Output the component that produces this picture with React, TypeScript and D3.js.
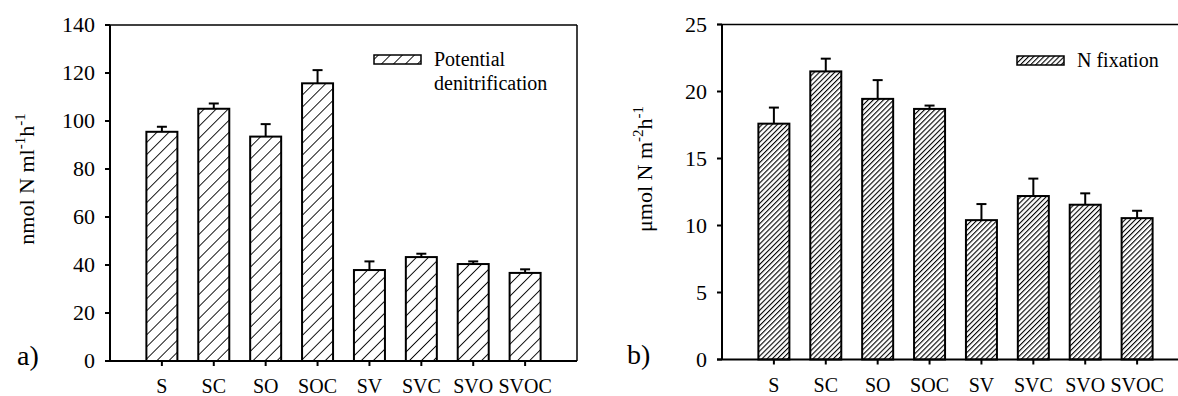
import React from "react";
import * as d3 from "d3";

// Treatments shared by both panels
const categories = ["S", "SC", "SO", "SOC", "SV", "SVC", "SVO", "SVOC"];

// Panel a) potential denitrification, nmol N ml-1 h-1 (mean and SE)
const denitrification = [95.5, 105.1, 93.5, 115.7, 37.9, 43.3, 40.4, 36.7];
const denitrificationErr = [2.1, 2.2, 5.2, 5.5, 3.6, 1.4, 1.1, 1.5];
const denitrificationTicks = [0, 20, 40, 60, 80, 100, 120, 140];

// Panel b) N fixation, µmol N m-2 h-1 (mean and SE)
const nFixation = [17.6, 21.5, 19.45, 18.7, 10.4, 12.2, 11.55, 10.55];
const nFixationErr = [1.2, 0.95, 1.4, 0.25, 1.2, 1.3, 0.85, 0.55];
const nFixationTicks = [0, 5, 10, 15, 20, 25];

const FONT = '"Liberation Serif", "Times New Roman", Times, serif';
const txt = { fontFamily: FONT };

type PanelProps = {
  values: number[];
  errors: number[];
  ticks: number[];
  yMax: number;
  x0: number;
  x1: number;
  yTop: number;
  yBottom: number;
  clipRight: number;
  patternId: string;
  showRightBorder: boolean;
  legendLines: string[];
  legendX: number;
  legendY: number;
  panelLabel: string;
  panelLabelX: number;
  yLabel: React.ReactNode;
  yLabelX: number;
  yLabelY: number;
};

function Panel(p: PanelProps) {
  const x = d3.scaleLinear().domain([0, categories.length + 1]).range([p.x0, p.x1]);
  const y = d3.scaleLinear().domain([0, p.yMax]).range([p.yBottom, p.yTop]);
  const barW = 31;
  const capW = 10;
  const tickLen = 5;
  const right = Math.min(p.x1, p.clipRight);
  return (
    <g>
      {/* bars */}
      {p.values.map((v, i) => {
        const cx = x(i + 1);
        return (
          <g key={categories[i]}>
            <rect
              x={cx - barW / 2}
              y={y(v)}
              width={barW}
              height={y(0) - y(v)}
              fill={`url(#${p.patternId})`}
              stroke="#000"
              strokeWidth={2}
            />
            <line x1={cx} x2={cx} y1={y(v)} y2={y(v + p.errors[i])} stroke="#000" strokeWidth={2} />
            <line
              x1={cx - capW / 2}
              x2={cx + capW / 2}
              y1={y(v + p.errors[i])}
              y2={y(v + p.errors[i])}
              stroke="#000"
              strokeWidth={2}
            />
          </g>
        );
      })}
      {/* frame */}
      <line x1={p.x0} x2={p.x0} y1={p.yTop} y2={p.yBottom} stroke="#000" strokeWidth={2} />
      <line x1={p.x0 - tickLen} x2={right} y1={p.yBottom} y2={p.yBottom} stroke="#000" strokeWidth={2} />
      <line x1={p.x0 - tickLen} x2={right} y1={p.yTop} y2={p.yTop} stroke="#000" strokeWidth={1.5} />
      {p.showRightBorder && (
        <line x1={p.x1} x2={p.x1} y1={p.yTop} y2={p.yBottom} stroke="#000" strokeWidth={1.5} />
      )}
      {/* y ticks */}
      {p.ticks.map((t) => (
        <g key={t}>
          <line x1={p.x0 - tickLen} x2={p.x0} y1={y(t)} y2={y(t)} stroke="#000" strokeWidth={2} />
          <text x={p.x0 - 15} y={y(t)} dy="0.34em" textAnchor="end" style={txt} fontSize={22}>
            {t}
          </text>
        </g>
      ))}
      {/* x ticks */}
      {categories.map((c, i) => (
        <g key={c}>
          <line x1={x(i + 1)} x2={x(i + 1)} y1={p.yBottom} y2={p.yBottom + 5} stroke="#000" strokeWidth={2} />
          <text x={x(i + 1)} y={p.yBottom + 32} textAnchor="middle" style={txt} fontSize={20}>
            {c}
          </text>
        </g>
      ))}
      {/* legend */}
      <rect
        x={p.legendX}
        y={p.legendY}
        width={47}
        height={9}
        fill={`url(#${p.patternId})`}
        stroke="#000"
        strokeWidth={1.5}
      />
      {p.legendLines.map((l, i) => (
        <text key={l} x={p.legendX + 60} y={p.legendY + 11 + i * 24} style={txt} fontSize={20}>
          {l}
        </text>
      ))}
      {/* panel label */}
      <text x={p.panelLabelX} y={p.yBottom + 4} style={txt} fontSize={28}>
        {p.panelLabel}
      </text>
      {/* y axis title */}
      <text
        transform={`translate(${p.yLabelX},${p.yLabelY}) rotate(-90)`}
        textAnchor="middle"
        style={txt}
        fontSize={22}
      >
        {p.yLabel}
      </text>
    </g>
  );
}

export default function App() {
  return (
    <svg
      width={1178}
      height={396}
      viewBox="0 0 1178 396"
      style={{ position: "absolute", left: 0, top: 0, background: "#fff" }}
    >
      <defs>
        <pattern
          id="hatchWide"
          patternUnits="userSpaceOnUse"
          width={8.5}
          height={8.5}
          patternTransform="rotate(45)"
        >
          <rect width={8.5} height={8.5} fill="#fff" />
          <line x1={0} y1={0} x2={0} y2={8.5} stroke="#000" strokeWidth={1.8} />
        </pattern>
        <pattern
          id="hatchDense"
          patternUnits="userSpaceOnUse"
          width={3.6}
          height={3.6}
          patternTransform="rotate(45)"
        >
          <rect width={3.6} height={3.6} fill="#fff" />
          <line x1={0} y1={0} x2={0} y2={3.6} stroke="#000" strokeWidth={2.2} />
        </pattern>
      </defs>
      <rect width={1178} height={396} fill="#fff" />
      <Panel
        values={denitrification}
        errors={denitrificationErr}
        ticks={denitrificationTicks}
        yMax={140}
        x0={110}
        x1={577}
        yTop={25}
        yBottom={361}
        clipRight={1178}
        patternId="hatchWide"
        showRightBorder={true}
        legendLines={["Potential", "denitrification"]}
        legendX={374}
        legendY={55}
        panelLabel="a)"
        panelLabelX={17}
        yLabel={
          <>
            nmol N ml<tspan dy="-9" fontSize={15}>-1</tspan>
            <tspan dy="9">h</tspan>
            <tspan dy="-9" fontSize={15}>-1</tspan>
          </>
        }
        yLabelX={34}
        yLabelY={179}
      />
      <Panel
        values={nFixation}
        errors={nFixationErr}
        ticks={nFixationTicks}
        yMax={25}
        x0={722}
        x1={1189}
        yTop={24.5}
        yBottom={359.5}
        clipRight={1178}
        patternId="hatchDense"
        showRightBorder={false}
        legendLines={["N fixation"]}
        legendX={1017}
        legendY={56}
        panelLabel="b)"
        panelLabelX={627}
        yLabel={
          <>
            μmol N m<tspan dy="-9" fontSize={15}>-2</tspan>
            <tspan dy="9">h</tspan>
            <tspan dy="-9" fontSize={15}>-1</tspan>
          </>
        }
        yLabelX={652}
        yLabelY={169}
      />
    </svg>
  );
}
